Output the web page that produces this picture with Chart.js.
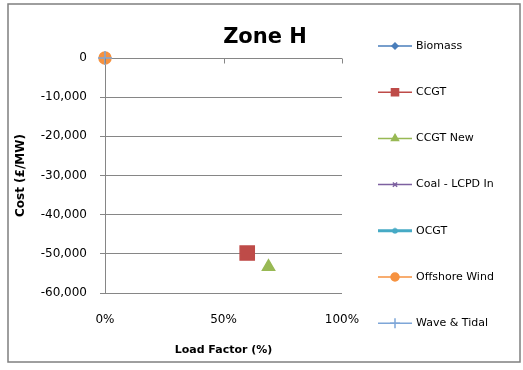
<!DOCTYPE html>
<html>
<head>
<meta charset="utf-8">
<script src="https://cdn.jsdelivr.net/npm/chart.js@4.4.0/dist/chart.umd.min.js"></script>
<style>
  html, body { margin: 0; padding: 0; background: #fff; }
</style>
</head>
<body>
<canvas id="chart" width="523" height="370"></canvas>
<script>
// series
const seriesNames = ['Biomass', 'CCGT', 'CCGT New', 'Coal - LCPD In', 'OCGT', 'Offshore Wind', 'Wave & Tidal'];
const loadFactor = [0, 0.60, 0.69, 0, 0, 0, 0];
const cost = [0, -49800, -53300, 0, 0, 0, 0];
const xTickValues = [0, 0.5, 1];
const yMin = -60000;
const yMax = 0;

// look of each series
const colors = ['#4A7EBB', '#BE4B48', '#98B954', '#7D60A0', '#46AAC5', '#F69240', '#7EA6D8'];
const markers = ['rectRot', 'rect', 'triangle', 'crossRot', 'star', 'circle', 'cross'];
const plotRadius = [5, 10, 7, 5, 5, 6, 7];
const legendRadius = [3, 5, 4, 3, 3, 4, 5];

const FONT = '"DejaVu Sans", sans-serif';
const GRID = '#868686';

const datasets = seriesNames.map((name, i) => ({
  label: name,
  data: [{ x: loadFactor[i], y: cost[i] }],
  pointStyle: markers[i],
  pointRadius: plotRadius[i],
  backgroundColor: colors[i],
  borderColor: colors[i],
  borderWidth: 1.5,
  order: seriesNames.length - i,
  clip: false
}));

// frame, title, tick marks on the zero line and the legend
const decorations = {
  id: 'decorations',
  beforeDraw(chart) {
    const ctx = chart.ctx;
    ctx.save();
    ctx.fillStyle = '#fff';
    ctx.fillRect(0, 0, chart.width, chart.height);
    ctx.restore();
  },
  afterDraw(chart) {
    const ctx = chart.ctx;
    const xs = chart.scales.x;
    const ys = chart.scales.y;
    ctx.save();

    ctx.strokeStyle = '#7f7f7f';
    ctx.lineWidth = 1.5;
    ctx.strokeRect(8, 4, 512, 358);

    ctx.fillStyle = '#000';
    ctx.font = 'bold 21px ' + FONT;
    ctx.textAlign = 'center';
    ctx.textBaseline = 'middle';
    ctx.fillText('Zone H', 265, 38);

    // axis crosses at 0, ticks hang from it
    ctx.strokeStyle = GRID;
    ctx.lineWidth = 1;
    const y0 = Math.round(ys.getPixelForValue(0)) + 0.5;
    xTickValues.forEach(v => {
      const px = Math.round(xs.getPixelForValue(v)) + 0.5;
      ctx.beginPath();
      ctx.moveTo(px, y0);
      ctx.lineTo(px, y0 + 5);
      ctx.stroke();
    });

    // legend
    ctx.font = '11px ' + FONT;
    ctx.textAlign = 'left';
    seriesNames.forEach((name, i) => {
      const ly = 46 + i * 46.2;
      ctx.strokeStyle = colors[i];
      ctx.fillStyle = colors[i];
      ctx.lineWidth = i === 4 ? 3 : 1.5;
      ctx.beginPath();
      ctx.moveTo(378, ly);
      ctx.lineTo(412, ly);
      ctx.stroke();
      ctx.lineWidth = 1.5;
      Chart.helpers.drawPoint(ctx, {
        pointStyle: markers[i], radius: legendRadius[i], rotation: 0, borderWidth: 1.5
      }, 395, ly);
      ctx.fillStyle = '#000';
      ctx.fillText(name, 416, ly);
    });
    ctx.restore();
  }
};

new Chart(document.getElementById('chart'), {
  type: 'scatter',
  data: { datasets },
  options: {
    responsive: false,
    animation: false,
    events: [],
    layout: { padding: { left: 8, top: 58, right: 181, bottom: 8 } },
    plugins: {
      legend: { display: false },
      tooltip: { enabled: false },
      title: { display: false }
    },
    scales: {
      x: {
        type: 'linear',
        min: 0,
        max: 1,
        afterBuildTicks: s => { s.ticks = xTickValues.map(v => ({ value: v })); },
        afterFit: s => { s.height = 69; },
        ticks: {
          callback: v => Math.round(v * 100) + '%',
          font: { family: FONT, size: 12 },
          color: '#000',
          padding: 20,
          maxRotation: 0
        },
        grid: { display: false, tickLength: 0 },
        border: { display: false },
        title: {
          display: true,
          text: 'Load Factor (%)',
          font: { family: FONT, size: 11, weight: 'bold' },
          color: '#000',
          padding: { top: 0, bottom: 5 }
        }
      },
      y: {
        min: yMin,
        max: yMax,
        afterFit: s => { s.width = 97; },
        ticks: {
          stepSize: 10000,
          callback: v => v.toLocaleString('en-US'),
          font: { family: FONT, size: 12 },
          color: '#000',
          padding: 13
        },
        grid: { color: GRID, tickColor: GRID, tickLength: 5, lineWidth: 1 },
        border: { display: true, color: GRID, width: 1 },
        title: {
          display: true,
          text: 'Cost (£/MW)',
          font: { family: FONT, size: 12, weight: 'bold' },
          color: '#000',
          padding: { top: 6, bottom: 0 }
        }
      }
    }
  },
  plugins: [decorations]
});
</script>
</body>
</html>
